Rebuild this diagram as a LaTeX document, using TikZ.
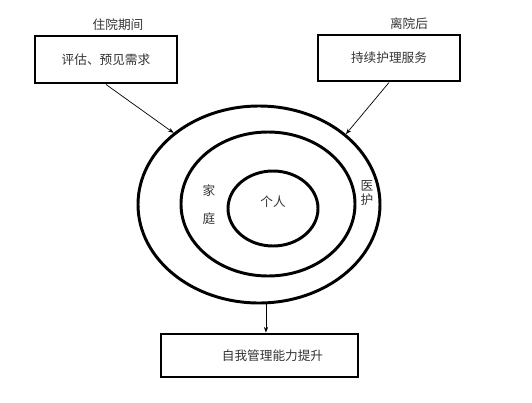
\documentclass[tikz,border=0pt]{standalone}
\usepackage{fontspec}
\newfontfamily\cjk{Noto Sans CJK SC}
\usetikzlibrary{arrows.meta,shapes.geometric,calc}
\newlength{\pxu}
\setlength{\pxu}{0.025cm}

\begin{document}
\begin{tikzpicture}[x=\pxu,y=-\pxu]
    \tikzset{line/.style={draw,line width=2.1pt}}
    \tikzset{arrow/.style={draw,line width=0.5pt,-{Stealth[length=4pt,width=3pt]}}}
    \tikzset{box/.style={line,rectangle,inner sep=0pt,font=\cjk\fontsize{9}{11}\selectfont,text=black!80}}
    \tikzset{ring/.style={line,ellipse,inner sep=0pt}}
    \tikzset{txt/.style={inner sep=0pt,font=\cjk\fontsize{9}{11}\selectfont,text=black!80}}

    \useasboundingbox (0,0) rectangle (532,402);

    % before and after discharge
    \node[txt] (stay) at (118,25) {住院期间};
    \node[box,minimum width=142\pxu,minimum height=47\pxu] (box1) at (106,59.5) {评估、预见需求};
    \node[txt] (after) at (409,24) {离院后};
    \node[box,minimum width=142\pxu,minimum height=46\pxu] (box2) at (389,58) {持续护理服务};

    % the three rings
    \node[ring,minimum width=242\pxu,minimum height=197\pxu] (outer) at (259,204.5) {};
    \node[ring,minimum width=174\pxu,minimum height=144\pxu] (middle) at (268,204) {};
    \node[ring,minimum width=90\pxu,minimum height=75\pxu] (inner) at (273,208.5) {};

    \node[txt] (self) at (273,202) {个人};
    \node[txt,align=center] (family) at (209,205) {家\\[9pt]庭};
    \node[txt,align=center,font=\cjk\fontsize{9}{9.5}\selectfont] (care) at (367,193) {医\\护};

    % result
    \node[box,minimum width=197\pxu,minimum height=43\pxu] (box3) at (259.5,355.5) {\hspace{26\pxu}自我管理能力提升};

    \draw[arrow] (box1.south) -- (outer.140.7);
    \draw[arrow] (box2.south) -- (outer.39.3);
    \draw[arrow] (outer.-86) -- (outer.-86 |- box3.north);
\end{tikzpicture}
\end{document}
